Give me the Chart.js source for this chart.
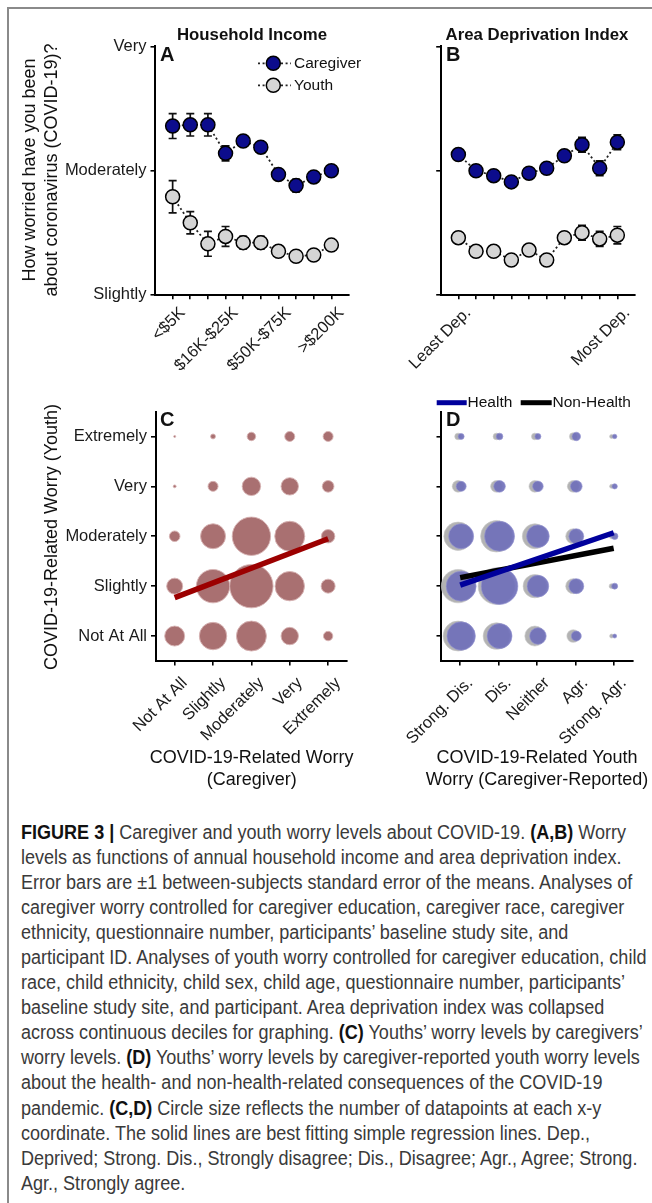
<!DOCTYPE html>
<html>
<head>
<meta charset="utf-8">
<script src="https://cdn.jsdelivr.net/npm/chart.js@4.4.1/dist/chart.umd.min.js"></script>
<style>
  html, body { margin:0; padding:0; background:#fff; }
  #page { position:relative; width:652px; height:1203px; overflow:hidden; background:#fff;
          font-family:'Liberation Sans', Arial, Helvetica, sans-serif; color:#111; }
  canvas { position:absolute; }
  .t { position:absolute; white-space:nowrap; }
  .title { font-weight:bold; font-size:16.8px; text-align:center; width:300px; line-height:20px; }
  .letter { font-weight:bold; font-size:20px; line-height:20px; }
  .axt { font-size:18px; text-align:center; line-height:22px; }
  #frameTop { position:absolute; left:7px; top:7px; width:645px; height:2px; background:#8a8a8a; }
  #frameLeft { position:absolute; left:7px; top:7px; width:2px; height:1196px; background:#8a8a8a; }
  #caption { position:absolute; left:21px; top:819.5px; font-family:'Liberation Sans Narrow','Liberation Sans',Arial,sans-serif;
             font-size:19.5px; line-height:25.1px; color:#3a3a3a; white-space:nowrap; transform-origin:0 0; }
  #caption b { color:#111; }
</style>
</head>
<body>
<div id="page">
  <div id="frameTop"></div>
  <div id="frameLeft"></div>

  <canvas id="cA" width="370" height="380" style="left:0;top:0"></canvas>
  <canvas id="cB" width="282" height="380" style="left:370px;top:0"></canvas>
  <canvas id="cC" width="370" height="420" style="left:0;top:380px"></canvas>
  <canvas id="cD" width="282" height="420" style="left:370px;top:380px"></canvas>

  <div class="t title" style="left:102px;top:25px">Household Income</div>
  <div class="t title" style="left:387px;top:25px">Area Deprivation Index</div>
  <div class="t letter" style="left:160px;top:44px">A</div>
  <div class="t letter" style="left:446px;top:44px">B</div>
  <div class="t letter" style="left:160px;top:409px">C</div>
  <div class="t letter" style="left:446px;top:409px">D</div>

  <div class="t axt" style="left:-109.5px;top:147px;width:300px;height:46px;transform:rotate(-90deg);transform-origin:150px 23px">How worried have you been<br>about coronavirus (COVID-19)?</div>
  <div class="t axt" style="left:-99px;top:525.7px;width:300px;height:22px;transform:rotate(-90deg);transform-origin:150px 11px">COVID-19-Related Worry (Youth)</div>

  <div class="t axt" style="left:101.7px;top:745.7px;width:300px">COVID-19-Related Worry<br>(Caregiver)</div>
  <div class="t axt" style="left:387px;top:745.7px;width:300px">COVID-19-Related Youth<br>Worry (Caregiver-Reported)</div>

  <div id="caption">
    <div><span><b>FIGURE 3 |</b> Caregiver and youth worry levels about COVID-19. <b>(A,B)</b> Worry</span></div>
    <div><span>levels as functions of annual household income and area deprivation index.</span></div>
    <div><span>Error bars are ±1 between-subjects standard error of the means. Analyses of</span></div>
    <div><span>caregiver worry controlled for caregiver education, caregiver race, caregiver</span></div>
    <div><span>ethnicity, questionnaire number, participants’ baseline study site, and</span></div>
    <div><span>participant ID. Analyses of youth worry controlled for caregiver education, child</span></div>
    <div><span>race, child ethnicity, child sex, child age, questionnaire number, participants’</span></div>
    <div><span>baseline study site, and participant. Area deprivation index was collapsed</span></div>
    <div><span>across continuous deciles for graphing. <b>(C)</b> Youths’ worry levels by caregivers’</span></div>
    <div><span>worry levels. <b>(D)</b> Youths’ worry levels by caregiver-reported youth worry levels</span></div>
    <div><span>about the health- and non-health-related consequences of the COVID-19</span></div>
    <div><span>pandemic. <b>(C,D)</b> Circle size reflects the number of datapoints at each x-y</span></div>
    <div><span>coordinate. The solid lines are best fitting simple regression lines. Dep.,</span></div>
    <div><span>Deprived; Strong. Dis., Strongly disagree; Dis., Disagree; Agr., Agree; Strong.</span></div>
    <div><span>Agr., Strongly agree.</span></div>
  </div>
</div>

<script>
// ---------------- DATA ----------------
// Panel A: household income (10 levels)
const incomeLabels = ['<$5K','','','$16K-$25K','','','$50K-$75K','','','>$200K'];
const caregiverIncome   = [3.36, 3.37, 3.37, 3.14, 3.24, 3.19, 2.97, 2.88, 2.95, 3.00];
const caregiverIncomeSE = [0.10, 0.09, 0.09, 0.06, 0.04, 0.04, 0.04, 0.05, 0.04, 0.04];
const youthIncome       = [2.79, 2.58, 2.41, 2.47, 2.42, 2.42, 2.35, 2.31, 2.32, 2.40];
const youthIncomeSE     = [0.13, 0.09, 0.10, 0.08, 0.05, 0.05, 0.04, 0.04, 0.04, 0.04];

// Panel B: area deprivation index deciles
const adiLabels = ['Least Dep.','','','','','','','','','Most Dep.'];
const caregiverADI   = [3.13, 3.00, 2.96, 2.91, 2.98, 3.02, 3.12, 3.21, 3.02, 3.23];
const caregiverADISE = [0.04, 0.04, 0.04, 0.04, 0.04, 0.04, 0.04, 0.06, 0.06, 0.06];
const youthADI       = [2.46, 2.35, 2.35, 2.28, 2.36, 2.28, 2.46, 2.50, 2.45, 2.48];
const youthADISE     = [0.04, 0.04, 0.04, 0.04, 0.04, 0.04, 0.04, 0.06, 0.06, 0.07];

const worryYLabels = ['Slightly','Moderately','Very'];   // values 2,3,4

// Panel C: counts of (caregiver worry x, youth worry y); one array per youth level, columns = caregiver level
const worryLevels = ['Not At All','Slightly','Moderately','Very','Extremely'];
const cYouthNotAtAll   = [100, 188, 225,  76, 22];
const cYouthSlightly   = [ 64, 279, 471, 216, 49];
const cYouthModerately = [ 28, 156, 368, 225, 45];
const cYouthVery       = [  2,  25,  85,  76, 34];
const cYouthExtremely  = [  1,   6,  18,  25, 25];
const regXC = [1, 5];
const regYC = [1.77, 2.95];

// Panel D: counts by caregiver-reported youth worry (x) and youth worry (y)
const agreeLabels = ['Strong. Dis.','Dis.','Neither','Agr.','Strong. Agr.'];
const dHealthNotAtAll   = [202, 156,  69, 25, 4];
const dHealthSlightly   = [225, 335, 117, 56, 9];
const dHealthModerately = [156, 225, 128, 56, 11];
const dHealthVery       = [ 25,  34,  28, 34, 7];
const dHealthExtremely  = [  9,  11,   9, 18, 5];
const dNonNotAtAll      = [225, 177, 100, 40, 4];
const dNonSlightly      = [279, 335, 137, 56, 6];
const dNonModerately    = [202, 250, 156, 56, 6];
const dNonVery          = [ 34,  34,  34, 34, 4];
const dNonExtremely     = [ 11,  11,  11, 14, 4];
const regXD = [1, 5];
const regYHealth    = [2.02, 3.07];
const regYNonHealth = [2.17, 2.76];

// ---------------- STYLE ----------------
const FAM = "'Liberation Sans', Arial, Helvetica, sans-serif";
const TICK_FONT = { family: FAM, size: 16.5 };
const TICK_COLOR = '#1a1a1a';
const CARE_FILL = '#0c0c8c';
const YOUTH_FILL = '#d5d5d5';
const C_FILL = 'rgba(160,96,98,0.9)';
const D_HEALTH_FILL = 'rgba(112,112,186,0.92)';
const D_NON_FILL = '#b3b3b3';

Chart.defaults.font.family = FAM;
Chart.defaults.animation = false;

function axisCommon() {
  return {
    grid: { drawOnChartArea: false, drawTicks: true, tickLength: 4.5, color: '#000', lineWidth: 1.6 },
    border: { display: true, color: '#000', width: 2 },
  };
}

const errorBars = {
  id: 'errorBars',
  beforeDatasetsDraw(chart) {
    const { ctx, scales: { x, y } } = chart;
    ctx.save();
    ctx.strokeStyle = '#111';
    ctx.lineWidth = 1.7;
    chart.data.datasets.forEach(ds => {
      if (!ds.errors) return;
      ds.data.forEach((p, i) => {
        const e = ds.errors[i];
        const px = x.getPixelForValue(p.x);
        const y1 = y.getPixelForValue(p.y + e), y2 = y.getPixelForValue(p.y - e);
        ctx.beginPath();
        ctx.moveTo(px, y1); ctx.lineTo(px, y2);
        ctx.moveTo(px - 4, y1); ctx.lineTo(px + 4, y1);
        ctx.moveTo(px - 4, y2); ctx.lineTo(px + 4, y2);
        ctx.stroke();
      });
    });
    ctx.restore();
  }
};

const legendA = {
  id: 'legendA',
  afterDraw(chart) {
    const ctx = chart.ctx;
    ctx.save();
    const ys = [63.3, 85.3];
    chart.data.datasets.forEach((ds, i) => {
      const y = ys[i];
      ctx.setLineDash([2, 2.6]);
      ctx.strokeStyle = '#222'; ctx.lineWidth = 1.8;
      ctx.beginPath(); ctx.moveTo(258, y); ctx.lineTo(291, y); ctx.stroke();
      ctx.setLineDash([]);
      ctx.beginPath(); ctx.arc(273.3, y, 7, 0, Math.PI * 2);
      ctx.fillStyle = ds.pointBackgroundColor; ctx.fill();
      ctx.lineWidth = 1.5; ctx.strokeStyle = '#000'; ctx.stroke();
      ctx.fillStyle = '#111'; ctx.font = "15.5px " + FAM;
      ctx.textBaseline = 'middle'; ctx.textAlign = 'left';
      ctx.fillText(ds.label, 294, y + 0.5);
    });
    ctx.restore();
  }
};

function lineDataset(label, xs, ys, color) {
  return { type: 'line', label, data: xs.map((x, i) => ({ x, y: ys[i] })), borderColor: color, borderWidth: 5.5,
           pointRadius: 0, borderCapStyle: 'butt', fill: false, order: 0 };
}

function worryPanel(canvasId, labels, care, careSE, youth, youthSE, yLabels, yWidth, padRight, plugins) {
  return new Chart(document.getElementById(canvasId), {
    type: 'line',
    data: {
      datasets: [
        { label: 'Caregiver', data: care.map((v, i) => ({ x: i, y: v })), errors: careSE,
          borderColor: '#222', borderWidth: 1.8, borderDash: [2, 2.6], pointRadius: 7, pointHoverRadius: 7,
          pointBackgroundColor: CARE_FILL, pointBorderColor: '#000', pointBorderWidth: 1.5, fill: false },
        { label: 'Youth', data: youth.map((v, i) => ({ x: i, y: v })), errors: youthSE,
          borderColor: '#222', borderWidth: 1.8, borderDash: [2, 2.6], pointRadius: 7, pointHoverRadius: 7,
          pointBackgroundColor: YOUTH_FILL, pointBorderColor: '#000', pointBorderWidth: 1.5, fill: false }
      ]
    },
    options: {
      responsive: false, devicePixelRatio: 1,
      layout: { padding: { left: 0, top: 45.5, right: padRight, bottom: 0 } },
      plugins: { legend: { display: false }, tooltip: { enabled: false } },
      scales: {
        x: Object.assign(axisCommon(), {
          type: 'linear', min: -1, max: 10,
          afterBuildTicks: s => { s.ticks = labels.map((l, i) => ({ value: i })); },
          afterFit: s => { s.height = 380 - 294.7; },
          ticks: { autoSkip: false, minRotation: 45, maxRotation: 45, font: TICK_FONT, color: TICK_COLOR, padding: 4,
                   labelOffset: 10, callback: v => labels[v] }
        }),
        y: Object.assign(axisCommon(), {
          type: 'linear', min: 2, max: 4.01,
          afterBuildTicks: s => { s.ticks = [2, 3, 4].map(v => ({ value: v })); },
          afterFit: s => { s.width = yWidth; },
          ticks: { font: TICK_FONT, color: TICK_COLOR, padding: 4, callback: v => (yLabels ? yLabels[v - 2] : '') }
        })
      }
    },
    plugins: plugins
  });
}

worryPanel('cA', incomeLabels, caregiverIncome, caregiverIncomeSE, youthIncome, youthIncomeSE, worryYLabels, 155, 21, [errorBars, legendA]);
worryPanel('cB', adiLabels, caregiverADI, caregiverADISE, youthADI, youthADISE, null, 70.7, 17, [errorBars]);

function bubbleRows(rows, dodge) {
  const out = [];
  rows.forEach((row, ri) => row.forEach((n, ci) => out.push({ x: ci + 1 + dodge, y: ri + 1, r: Math.sqrt(n) })));
  return out;
}

function bubbleScales(xLabels, yLabels, yWidth) {
  return {
    x: Object.assign(axisCommon(), {
      type: 'linear', min: 0.5, max: 5.5,
      afterBuildTicks: s => { s.ticks = xLabels.map((l, i) => ({ value: i + 1 })); },
      afterFit: s => { s.height = 420 - 281; },
      ticks: { autoSkip: false, minRotation: 45, maxRotation: 45, font: TICK_FONT, color: TICK_COLOR, padding: 8,
               labelOffset: 10, callback: v => xLabels[v - 1] }
    }),
    y: Object.assign(axisCommon(), {
      type: 'linear', min: 0.5, max: 5.5,
      afterBuildTicks: s => { s.ticks = [1, 2, 3, 4, 5].map(v => ({ value: v })); },
      afterFit: s => { s.width = yWidth; },
      ticks: { font: TICK_FONT, color: TICK_COLOR, padding: 4, callback: v => (yLabels ? yLabels[v - 1] : '') }
    })
  };
}

// Panel C
new Chart(document.getElementById('cC'), {
  type: 'bubble',
  data: {
    datasets: [
      lineDataset('Regression', regXC, regYC, '#9c0000'),
      { type: 'bubble', label: 'Counts',
        data: bubbleRows([cYouthNotAtAll, cYouthSlightly, cYouthModerately, cYouthVery, cYouthExtremely], 0),
        backgroundColor: C_FILL, borderColor: 'rgba(215,180,180,0.9)', borderWidth: 1, order: 1, clip: false }
    ]
  },
  options: {
    responsive: false, devicePixelRatio: 1,
    layout: { padding: { left: 0, top: 31.5, right: 21.5, bottom: 0 } },
    plugins: { legend: { display: false }, tooltip: { enabled: false } },
    scales: bubbleScales(worryLevels, worryLevels, 155.5)
  }
});

// Panel D
const legendD = {
  id: 'legendD',
  afterDraw(chart) {
    const ctx = chart.ctx;
    ctx.save();
    const items = [
      { ds: chart.data.datasets[0], x0: 66.7, x1: 96.7, tx: 97.5 },
      { ds: chart.data.datasets[1], x0: 150.7, x1: 181.7, tx: 182.5 }
    ];
    const y = 22.7;
    items.forEach(it => {
      ctx.strokeStyle = it.ds.borderColor; ctx.lineWidth = 5;
      ctx.beginPath(); ctx.moveTo(it.x0, y); ctx.lineTo(it.x1, y); ctx.stroke();
      ctx.fillStyle = '#111'; ctx.font = "15.5px " + FAM;
      ctx.textBaseline = 'middle'; ctx.textAlign = 'left';
      ctx.fillText(it.ds.label, it.tx, y + 0.5);
    });
    ctx.restore();
  }
};

new Chart(document.getElementById('cD'), {
  type: 'bubble',
  data: {
    datasets: [
      Object.assign(lineDataset('Health', regXD, regYHealth, '#00009c'), { order: 0 }),
      Object.assign(lineDataset('Non-Health', regXD, regYNonHealth, '#000000'), { order: 1 }),
      { type: 'bubble', label: 'Health counts',
        data: bubbleRows([dHealthNotAtAll, dHealthSlightly, dHealthModerately, dHealthVery, dHealthExtremely], 0.025),
        backgroundColor: D_HEALTH_FILL, borderColor: 'rgba(150,150,210,0.8)', borderWidth: 0.8, order: 2, clip: false },
      { type: 'bubble', label: 'Non-Health counts',
        data: bubbleRows([dNonNotAtAll, dNonSlightly, dNonModerately, dNonVery, dNonExtremely], -0.055),
        backgroundColor: D_NON_FILL, borderColor: 'rgba(200,200,200,0.8)', borderWidth: 0.8, order: 3, clip: false }
    ]
  },
  options: {
    responsive: false, devicePixelRatio: 1,
    layout: { padding: { left: 0, top: 31.5, right: 17, bottom: 0 } },
    plugins: { legend: { display: false }, tooltip: { enabled: false } },
    scales: bubbleScales(agreeLabels, null, 71)
  },
  plugins: [legendD]
});

// Caption: condensed to the width of the original lines
(function () {
  const cap = document.getElementById('caption');
  const first = cap.querySelector('span');
  const w = first.getBoundingClientRect().width;
  cap.style.transform = 'scaleX(' + (605 / w) + ')';
})();
</script>
</body>
</html>
